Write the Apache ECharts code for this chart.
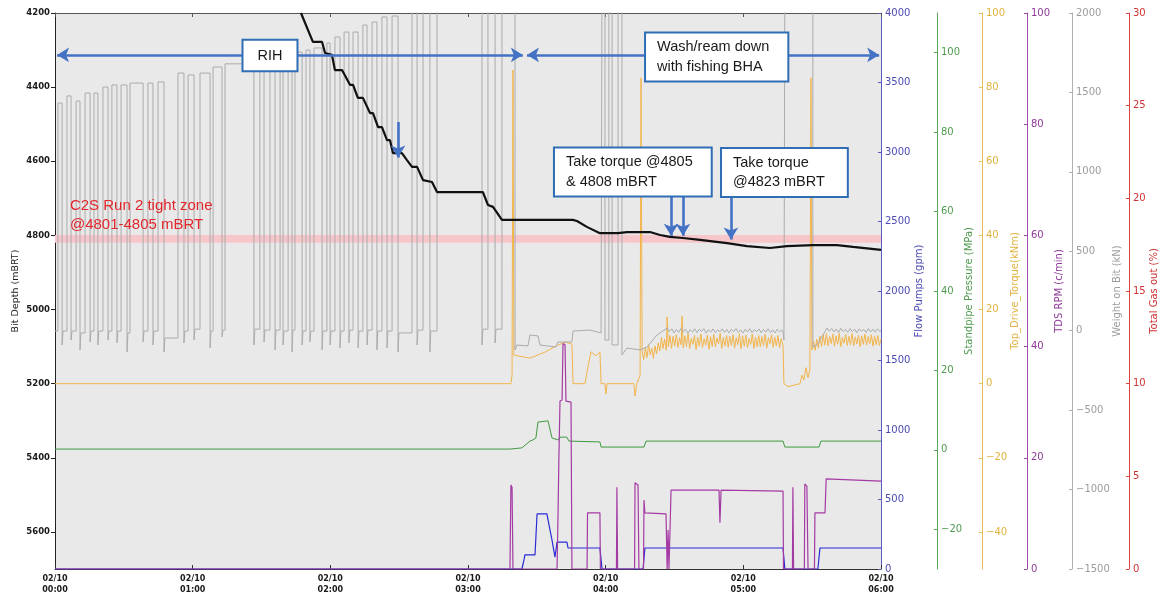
<!DOCTYPE html>
<html><head><meta charset="utf-8">
<script src="https://cdn.jsdelivr.net/npm/echarts@6/dist/echarts.min.js"></script>
<style>html,body{margin:0;padding:0;background:#fff}#c{width:1161px;height:594px}</style>
</head><body><div id="c"></div><script>
// ---------------- DATA (time in minutes after 02/10 00:00) ----------------
const xTickLabels = ['02/10\n00:00','02/10\n01:00','02/10\n02:00','02/10\n03:00','02/10\n04:00','02/10\n05:00','02/10\n06:00'];

// Bit depth (mBRT)
const bitDepth = [[107.2,4200],[112.4,4278],[116.4,4278],[117.7,4308],[120.7,4313],[122.0,4354],[125.1,4354],[128.6,4394],[129.9,4394],[132.0,4429],[134.2,4429],[137.3,4470],[138.6,4470],[140.8,4508],[142.5,4508],[144.7,4543],[146.0,4543],[147.3,4578],[151.2,4578],[153.4,4597],[155.6,4615],[157.8,4615],[160.4,4651],[164.3,4656],[166.5,4683],[186.5,4683],[188.7,4718],[190.9,4723],[194.8,4758],[225.7,4758],[227.5,4761],[231.8,4777],[237.5,4794],[245.4,4794],[249.3,4791],[259.3,4791],[263.7,4799],[268.0,4804],[273.7,4807],[281.1,4812],[292.9,4821],[301.6,4829],[311.6,4834],[319.0,4829],[330.3,4826],[340.8,4826],[347.8,4831],[360,4839]];

// Weight on bit (kN): tripping pulses
const wobStartLevel = -2;
const wobPulseStart = [1.3,5.2,9.2,13.1,17.0,20.9,24.8,28.8,32.7,40.5,44.9,53.6,58.0,63.2,68.9,74.1,89.3,93.7,98.1,101.6,104.6,109.4,112.9,118.5,122.0,126.0,129.9,134.2,138.2,142.5,146.9,155.6,160.4,166.5,188.7,194.8];
const wobPulseEnd   = [3.1,7.0,10.9,15.3,18.7,23.1,27.0,31.4,38.4,42.7,47.5,56.2,60.6,67.6,72.8,86.7,91.1,95.9,99.4,103.3,107.7,111.1,116.4,119.9,124.2,128.1,132.1,136.0,140.3,144.7,149.5,157.8,163.4,186.1,191.8,200.5];
const wobPulseTop   = [1433,1478,1446,1496,1496,1534,1547,1547,1559,1559,1566,1622,1610,1622,1660,1680,1704,1717,1729,1742,1754,1767,1780,1811,1849,1880,1880,1924,1943,1975,1981,2200,2200,2200,2200,2200];
const wobGapLevel   = [-2,-2,-14,-2,-2,-2,-2,-14,-2,-2,-46,-2,10,-2,4,10,4,4,-2,4,-2,-2,-2,-2,-2,4,-2,4,-2,-2,-14,4,-2,10,10];
const wobGapDip     = [-90,-59,-121,-71,-90,-59,-77,-134,-71,-90,-134,-77,-59,-109,-38,-90,-71,-121,-90,-134,-90,-71,-121,-90,-109,-77,-109,-90,-121,-109,-134,-90,-134,-90,-77];
const wobTail = [[200.5,-121],[201.3,-90],[206.1,-96],[207.0,-27],[210.5,-33],[211.4,-90],[218.3,-103],[219.2,-71],[225.3,-71],[225.8,-2],[233.2,4],[238.0,-14],[238.4,2200],[239.7,2200],[239.7,-59],[241.4,-59],[241.4,2200],[242.8,2200],[242.8,-90],[245.4,-90],[245.4,2200],[247.1,2200],[247.1,-153],[249.3,-109],[255.0,-121],[258.0,-103],[262.4,-27],
[266.8,17],[267.8,-5],[268.8,12],[269.8,-14],[270.8,8],[271.8,-10],[272.8,14],[273.8,-6],[274.8,10],[275.8,-16],[276.8,6],[277.8,-8],[278.8,12],[279.8,-12],[280.8,9],[281.8,-4],[282.8,13],[283.8,-15],[284.8,7],[285.8,-9],[286.8,11],[287.8,-13],[288.8,5],[289.8,-7],[290.8,12],[291.8,-11],[292.8,8],[293.8,-14],[294.8,10],[295.8,-6],[296.8,13],[297.8,-10],[298.8,6],[299.8,-15],[300.8,9],[301.8,-8],[302.8,12],[303.8,-12],[304.8,7],[305.8,-5],[306.8,11],[307.8,-13],[308.8,8],[309.8,-9],[310.8,12],[311.8,-11],[312.8,6],[313.8,-14],[314.8,10],[315.8,-7],[316.8,5],[317.3,-8],[317.7,-59],[318.1,2200],[330.3,2200],[330.3,-103],[332.1,-90],
[336.5,17],[337.5,-3],[338.5,14],[339.5,-8],[340.5,11],[341.5,-12],[342.5,15],[343.5,-5],[344.5,9],[345.5,-10],[346.5,13],[347.5,-6],[348.5,10],[349.5,-13],[350.5,12],[351.5,-4],[352.5,8],[353.5,-11],[354.5,14],[355.5,-7],[356.5,10],[357.5,-9],[358.5,12],[359.5,-5],[360,4]];

// Top drive torque (kNm)
const torque = [[0,0],[198.7,0],[199.2,2.3],[199.6,84.6],[200.0,7.7],[207.0,6.9],[213.5,8.5],[219.2,10.4],[222.3,11.2],[225.3,10.7],[225.8,0],[231.0,0],[232.3,4.6],[233.6,8.6],[235.8,7.5],[237.5,8.6],[238.0,0],[239.7,0],[240.1,-2.8],[240.6,0],[252.3,0],[252.8,-3.3],[253.6,0],[255.0,2.3],[255.4,82.5],
[255.9,8.6],[256.6,6.5],[257.3,9.8],[258.0,7.0],[258.7,10.5],[259.4,7.8],[260.1,9.6],[260.8,6.8],[261.5,10.2],[262.2,8.0],[262.9,11.0],[263.6,8.8],[264.3,12.5],[265.0,9.5],[265.7,12.0],[266.4,9.0],[266.8,18.0],[267.3,10.0],[268.0,13.0],[268.7,9.5],[269.4,12.8],[270.1,10.2],[270.8,13.2],[271.5,9.8],[272.2,12.4],[272.9,10.5],[273.3,18.2],[273.8,9.6],[274.5,12.9],[275.2,10.0],[275.9,13.5],[276.6,9.4],[277.3,12.2],[278.0,10.6],[278.7,13.0],[279.4,9.2],[280.1,12.6],[280.8,10.1],[281.5,13.4],[282.2,9.7],[282.9,12.1],[283.6,10.4],[284.3,13.1],[285.0,9.3],[285.7,12.7],[286.4,10.0],[287.1,13.3],[287.8,9.9],[288.5,12.3],[289.2,10.7],[289.9,13.6],[290.6,9.5],[291.3,12.5],[292.0,10.2],[292.7,13.0],[293.4,9.8],[294.1,12.8],[294.8,10.3],[295.5,13.2],[296.2,9.6],[296.9,12.4],[297.6,10.5],[298.3,13.5],[299.0,9.4],[299.7,12.9],[300.4,10.1],[301.1,13.1],[301.8,9.7],[302.5,12.2],[303.2,10.6],[303.9,13.4],[304.6,9.5],[305.3,12.6],[306.0,10.0],[306.7,13.0],[307.4,9.9],[308.1,12.7],[308.8,10.3],[309.5,13.3],[310.2,9.6],[310.9,12.4],[311.6,10.8],[312.3,13.2],[313.0,9.8],[313.7,12.5],[314.4,10.2],[315.1,13.0],[315.8,9.7],[316.5,12.1],[317.3,10.4],
[317.7,0],[319.5,-0.8],[324.7,0],[325.6,2.3],[326.4,1.0],[327.3,4.3],[328.2,1.6],[329.0,3.7],[329.5,82.5],
[329.9,9.1],[330.6,11.5],[331.3,9.0],[332.0,12.0],[332.7,9.6],[333.4,12.8],[334.1,10.0],[334.8,13.2],[335.5,10.4],[336.2,13.5],[336.9,10.2],[337.6,12.7],[338.3,10.8],[339.0,13.4],[339.7,10.1],[340.4,12.9],[341.1,10.6],[341.8,13.6],[342.5,10.0],[343.2,12.5],[343.9,10.9],[344.6,13.3],[345.3,10.3],[346.0,12.8],[346.7,10.5],[347.4,13.5],[348.1,10.2],[348.8,12.6],[349.5,10.7],[350.2,13.1],[350.9,10.0],[351.6,12.9],[352.3,10.6],[353.0,13.4],[353.7,10.4],[354.4,12.7],[355.1,10.8],[355.8,13.2],[356.5,10.1],[357.2,12.8],[357.9,10.5],[358.6,13.0],[359.3,10.3],[360,12.0]];

// Standpipe pressure (MPa)
const pressure = [[0,0.2],[198.3,0.2],[203.5,0.5],[207.0,2.2],[208.3,2.5],[209.6,3.0],[210.5,7.0],[214.9,7.3],[216.6,3.0],[219.2,2.5],[220.1,3.2],[223.1,3.2],[224.0,2.2],[237.5,2.0],[238.0,0.7],[256.7,0.7],[257.6,2.2],[317.3,2.2],[318.1,0.7],[333.0,0.7],[333.8,2.2],[360,2.2]];

// TDS RPM (c/min)
const rpm = [[0,0],[198.3,0],[198.7,15.1],[199.2,14.7],[199.6,0],[218.8,0],[219.2,8.8],[219.6,19.6],[220.1,30.2],[221.0,30.4],[221.4,40.6],[222.3,40.3],[222.7,30.2],[224.9,30.0],[225.3,0],[231.9,0],[232.1,10.1],[237.5,10.1],[237.7,0],[244.7,0],[244.9,14.7],[245.2,0],[252.6,0],[252.8,15.5],[254.1,15.1],[254.5,0],[256.5,0],[256.7,12.4],[257.1,10.1],[266.3,9.9],[266.8,0],[267.2,7.0],[267.6,0],[268.3,0],[268.5,14.2],[289.4,14.2],[289.8,8.3],[290.3,14.2],[317.3,14.0],[317.5,0],[321.4,0],[321.6,14.7],[321.9,0],[326.6,0],[326.8,15.3],[327.7,14.9],[328.2,0],[331.0,0],[331.2,10.1],[335.6,10.1],[336.1,16.2],[360,15.8]];

// Flow pumps (gpm)
const flowPumps = [[0,0],[203.5,0],[204.4,65],[204.8,101],[209.2,101],[210.1,396],[214.4,396],[215.3,317],[216.6,209],[217.9,86],[218.8,194],[223.1,194],[223.6,151],[237.5,151],[238.4,0],[256.3,0],[257.1,151],[317.3,151],[318.1,0],[332.5,0],[333.4,151],[360,151]];

// Tight zone (mBRT) shown as band
const tightZone = [4799, 4820];

// ---------------- BUILD WOB LINE ----------------
const wob = [[0, wobStartLevel]];
for (let i = 0; i < wobPulseStart.length; i++) {
  const prev = i === 0 ? wobStartLevel : wobGapLevel[i - 1];
  wob.push([wobPulseStart[i], prev]);
  wob.push([wobPulseStart[i], wobPulseTop[i]]);
  wob.push([wobPulseEnd[i], wobPulseTop[i]]);
  if (i < wobGapLevel.length) {
    wob.push([wobPulseEnd[i], wobGapDip[i]]);
    wob.push([wobPulseEnd[i] + 0.4, wobGapLevel[i]]);
  }
}
wobTail.forEach(p => wob.push(p));

// ---------------- CHART ----------------
const MPL = 'DejaVu Sans', BOX = 'Liberation Sans';
const fmtNum = v => v < 0 ? '\u2212' + Math.abs(v) : String(v);

function rightAxis(c) {
  const ax = {
    type: 'value', position: 'right', offset: c.offset, min: c.min, max: c.max,
    name: c.name, nameLocation: 'middle', nameGap: c.nameGap, nameMoveOverlap: false,
    nameTextStyle: { color: c.color, fontSize: 10, fontFamily: MPL },
    axisLine: { show: true, onZero: false, lineStyle: { color: c.line, width: 1 } },
    axisTick: { show: true, inside: true, length: 3, lineStyle: { color: c.line } },
    axisLabel: { color: c.color, fontSize: 10, fontFamily: MPL, margin: 4, formatter: fmtNum },
    splitLine: { show: false }
  };
  if (c.interval) ax.interval = c.interval;
  if (c.ticks) { ax.axisTick.customValues = c.ticks; ax.axisLabel.customValues = c.ticks; }
  return ax;
}

const boxLabel = {
  show: true, position: 'inside', verticalAlign: 'middle', fontFamily: BOX, fontSize: 14.5,
  color: '#1a1a1a', backgroundColor: '#ffffff', borderColor: '#2f6db5', borderWidth: 2, lineHeight: 19.5
};

const line = (name, data, yIdx, color, width, z) => ({
  name, type: 'line', data, xAxisIndex: 0, yAxisIndex: yIdx, showSymbol: false, symbol: 'none',
  silent: true, animation: false, z: z || 2, lineStyle: { color, width }
});

const depthSeries = line('Bit Depth', bitDepth, 0, '#111111', 2.2, 4);
depthSeries.markArea = {
  silent: true, z: 1, itemStyle: { color: '#f6c6ca' },
  data: [[{ yAxis: tightZone[0] }, { yAxis: tightZone[1] }]]
};
depthSeries.markLine = {
  silent: true, z: 10, animation: false, symbol: ['arrow', 'arrow'], symbolSize: [11, 12],
  label: { show: false }, lineStyle: { color: '#4472c4', width: 2.6, type: 'solid' },
  emphasis: { disabled: true },
  data: [
    [{ coord: [0.9, 4313] }, { coord: [203.9, 4313] }],
    [{ coord: [205.7, 4313] }, { coord: [359.2, 4313] }],
    [{ coord: [149.5, 4494], symbol: 'none' }, { coord: [149.5, 4590] }],
    [{ coord: [268.5, 4694], symbol: 'none' }, { coord: [268.5, 4801] }],
    [{ coord: [273.7, 4694], symbol: 'none' }, { coord: [273.7, 4801] }],
    [{ coord: [294.6, 4696], symbol: 'none' }, { coord: [294.6, 4811] }]
  ]
};
depthSeries.markPoint = {
  silent: true, z: 11, animation: false, symbol: 'rect', symbolSize: 1,
  itemStyle: { color: 'rgba(0,0,0,0)' },
  data: [
    { coord: [93.7, 4314.7], label: Object.assign({}, boxLabel, { formatter: 'RIH', align: 'center', padding: [5, 14, 5, 14] }) },
    { coord: [257.6, 4318.7], label: Object.assign({}, boxLabel, { formatter: 'Wash/ream down\nwith fishing BHA', align: 'left', padding: [4, 18, 4, 11] }) },
    { coord: [217.9, 4629], label: Object.assign({}, boxLabel, { formatter: 'Take torque @4805\n& 4808 mBRT', align: 'left', padding: [4, 18, 4, 11] }) },
    { coord: [290.7, 4630], label: Object.assign({}, boxLabel, { formatter: 'Take torque\n@4823 mBRT', align: 'left', padding: [4, 22, 4, 11] }) },
    { coord: [6.5, 4746], label: { show: true, position: 'inside', align: 'left', verticalAlign: 'middle', fontFamily: BOX, fontSize: 15, lineHeight: 19, color: '#e3262c', formatter: 'C2S Run 2 tight zone\n@4801-4805 mBRT' } }
  ]
};

const option = {
  animation: false,
  backgroundColor: '#ffffff',
  grid: { left: 55, right: 280, top: 13, bottom: 25, show: true, backgroundColor: '#e9e9e9', borderWidth: 0, outerBoundsMode: 'none', containLabel: false },
  xAxis: [
    { type: 'value', min: 0, max: 360, interval: 60, position: 'bottom',
      axisLine: { show: true, onZero: false, lineStyle: { color: '#333', width: 1 } },
      axisTick: { show: true, inside: true, length: 4, lineStyle: { color: '#333' } },
      axisLabel: { fontFamily: MPL, fontSize: 8, fontWeight: 'bold', color: '#1a1a1a', lineHeight: 11, margin: 4,
        formatter: v => xTickLabels[Math.round(v / 60)] },
      splitLine: { show: false } },
    { type: 'value', min: 0, max: 360, interval: 60, position: 'top',
      axisLine: { show: true, onZero: false, lineStyle: { color: '#555', width: 1 } },
      axisTick: { show: true, inside: true, length: 4, lineStyle: { color: '#555' } },
      axisLabel: { show: false }, splitLine: { show: false } }
  ],
  yAxis: [
    { type: 'value', position: 'left', inverse: true, min: 4200, max: 5700, interval: 200,
      name: 'Bit Depth (mBRT)', nameLocation: 'middle', nameGap: 34, nameMoveOverlap: false,
      nameTextStyle: { fontFamily: MPL, fontSize: 9.5, color: '#1a1a1a' },
      axisLine: { show: true, onZero: false, lineStyle: { color: '#222', width: 1 } },
      axisTick: { show: true, inside: false, length: 4, lineStyle: { color: '#222' } },
      axisLabel: { fontFamily: MPL, fontSize: 8.5, fontWeight: 'bold', color: '#1a1a1a', margin: 5, showMaxLabel: false, formatter: v => String(v) },
      splitLine: { show: false } },
    rightAxis({ name: 'Flow Pumps (gpm)', offset: 0, min: 0, max: 4000, interval: 500, nameGap: 33, color: '#4b4bb2', line: '#5a5ac0' }),
    rightAxis({ name: 'Standpipe Pressure (MPa)', offset: 56, min: -30, max: 110, ticks: [-20, 0, 20, 40, 60, 80, 100], nameGap: 27, color: '#4f9a4f', line: '#5aa55a' }),
    rightAxis({ name: 'Top_Drive_Torque(kNm)', offset: 101, min: -50, max: 100, ticks: [-40, -20, 0, 20, 40, 60, 80, 100], nameGap: 28, color: '#e2b240', line: '#e9bd55' }),
    rightAxis({ name: 'TDS RPM (c/min)', offset: 146, min: 0, max: 100, interval: 20, nameGap: 27, color: '#8e3a98', line: '#9c4aa5' }),
    rightAxis({ name: 'Weight on Bit (kN)', offset: 191, min: -1500, max: 2000, interval: 500, nameGap: 40, color: '#9c9c9c', line: '#b0b0b0' }),
    rightAxis({ name: 'Total Gas out (%)', offset: 248, min: 0, max: 30, interval: 5, nameGap: 20, color: '#cf3434', line: '#d94545' })
  ],
  series: [
    line('Standpipe Pressure', pressure, 2, '#3f9a3f', 1),
    line('Flow Pumps', flowPumps, 1, '#2a2ad6', 1.2),
    line('TDS RPM', rpm, 4, '#a43aa4', 1.2),
    line('Top Drive Torque', torque, 3, '#f2b54c', 1),
    line('Weight on Bit', wob, 5, '#ababab', 1),
    depthSeries
  ]
};

const chart = echarts.init(document.getElementById('c'), null, { renderer: 'canvas' });
chart.setOption(option);
</script></body></html>
